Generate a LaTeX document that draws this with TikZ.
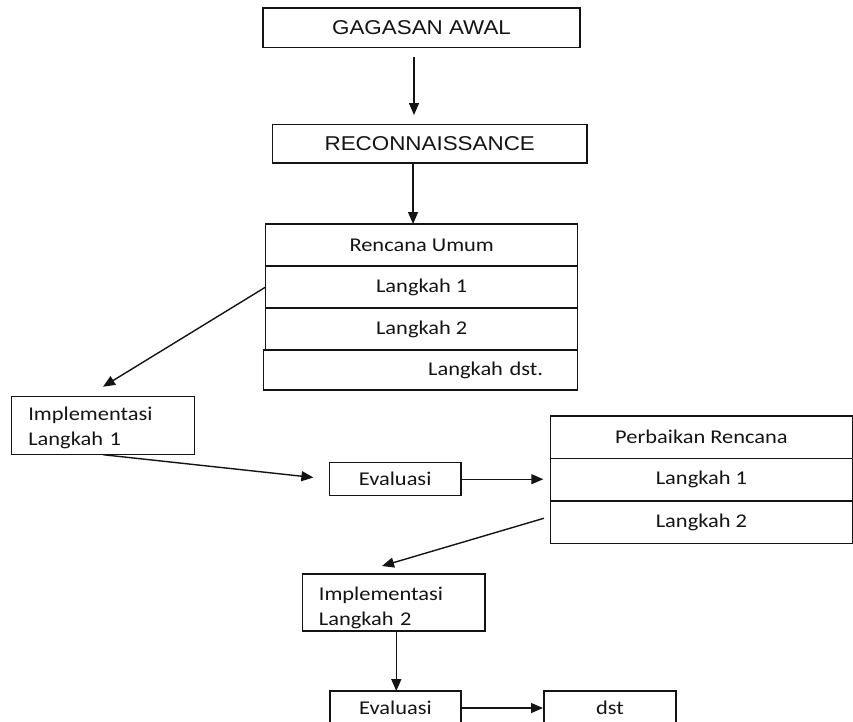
\documentclass[tikz,border=0pt]{standalone}
\usepackage{fontspec}
\setmainfont{Carlito}[FakeStretch=1.15]
\newfontfamily\arialfont{Liberation Sans}[FakeStretch=1.12]
\usetikzlibrary{arrows.meta}
\definecolor{Ink}{HTML}{141414}

\begin{document}
\begin{tikzpicture}[x=1pt,y=-1pt,
  box/.style={draw=Ink,line width=1.4pt,anchor=north west,inner sep=0pt,outer sep=0pt,text=Ink,font=\fontsize{19.5}{25}\selectfont},
  head/.style={box,font=\arialfont\fontsize{20}{24}\selectfont},
  impl/.style={box,align=left,text width=149.4pt,inner xsep=16.6pt,minimum height=58pt,execute at begin node={\rule{0pt}{#1}}},
  arr/.style={draw=Ink,line width=1.4pt,-{Triangle[length=12pt,width=10pt]}}]
  \clip (0,0) rectangle (853,721);
  \fill[white] (0,0) rectangle (853,721);
  % top
  \node[head,minimum width=317pt,minimum height=39.5pt] (gagasan) at (263,8) {GAGASAN AWAL};
  \node[head,minimum width=314.5pt,minimum height=38.5pt] (recon) at (272.5,124.5) {RECONNAISSANCE};
  % rencana umum
  \foreach \lbl [count=\i from 0] in {Rencana Umum,Langkah 1,Langkah 2}
    \node[box,minimum width=312pt,minimum height=42pt] (umum\i) at (265.7,{224+42*\i}) {\lbl};
  \node[box,align=right,text width=245pt,inner xsep=34.7pt,minimum height=40pt] (umum3) at (263.3,350) {Langkah dst.};
  % siklus 1
  \node[impl=17.6pt] (impl1) at (11.7,396.7) {Implementasi\\Langkah 1};
  \node[box,minimum width=131.7pt,minimum height=33pt] (eval1) at (329.3,462.7) {Evaluasi};
  \foreach \lbl [count=\i from 0] in {Perbaikan Rencana,Langkah 1,Langkah 2}
    \node[box,minimum width=301.5pt,minimum height=42.5pt] (perb\i) at (550.7,{416+42.5*\i}) {\lbl};
  % siklus 2
  \node[impl=25pt,minimum height=57pt] (impl2) at (302.3,574) {Implementasi\\Langkah 2};
  \node[box,minimum width=131pt,minimum height=34pt] (eval2) at (330,691) {Evaluasi};
  \node[box,minimum width=132pt,minimum height=34pt] (dst) at (544,691) {dst};
  % panah
  \coordinate (gOut) at ([xshift=-7.5pt]gagasan.south);
  \coordinate (rOut) at ([xshift=-16.7pt]recon.south);
  \coordinate (tip1) at ([yshift=10pt]impl1.north);
  \coordinate (tip2) at ([shift={(-11.6pt,8pt)}]impl2.north);
  \coordinate (iOut) at ([xshift=2.7pt]impl2.south);
  \draw[arr,shorten <=9.5pt,shorten >=9.5pt] (gOut) -- (gOut |- recon.north);
  \draw[arr] (rOut) -- (rOut |- umum0.north);
  \draw[arr] (umum1.west) -- (tip1);
  \draw[arr,shorten >=16pt] (impl1.south) -- (eval1.west);
  \draw[arr,shorten >=7.4pt] (eval1.east) -- (eval1.east -| perb1.west);
  \draw[arr,shorten <=7pt] ([yshift=6pt]perb2.west) -- (tip2);
  \draw[arr] (iOut) -- (iOut |- eval2.north);
  \draw[arr,shorten >=1pt] (eval2.east) -- (dst.west);
\end{tikzpicture}
\end{document}
